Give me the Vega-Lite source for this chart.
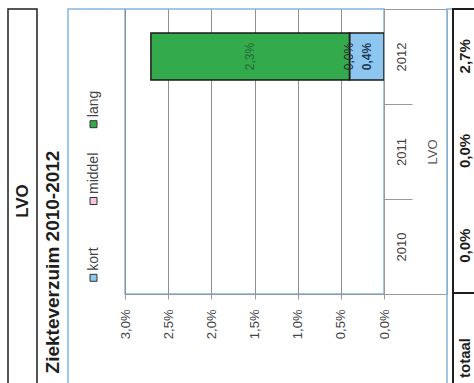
{
  "$schema": "https://vega.github.io/schema/vega-lite/v6.json",
  "background": "white",
  "padding": {"left": 7, "top": 7, "right": 0, "bottom": 0},
  "bounds": "flush",
  "spacing": 0,
  "config": {
    "font": "Liberation Sans",
    "view": {"stroke": null},
    "concat": {"spacing": 0},
    "locale": {
      "number": {"decimal": ",", "thousands": ".", "grouping": [3], "currency": ["€ ", ""]}
    }
  },
  "datasets": {
    "verzuim": [
      {"jaar": "2012", "reeks": "kort", "pct": 0.004},
      {"jaar": "2012", "reeks": "middel", "pct": 0.0},
      {"jaar": "2012", "reeks": "lang", "pct": 0.023}
    ],
    "totaal": [
      {"jaar": "2012", "pct": 0.027},
      {"jaar": "2011", "pct": 0.0},
      {"jaar": "2010", "pct": 0.0}
    ],
    "reeksen": [
      {"reeks": "kort"},
      {"reeks": "middel"},
      {"reeks": "lang"}
    ]
  },
  "hconcat": [
    {
      "width": 29,
      "height": 384,
      "view": {"stroke": "#1e1e1e", "strokeWidth": 1.5},
      "data": {"values": [{"kop": "LVO"}]},
      "mark": {"type": "text", "angle": 270, "fontSize": 17, "fontWeight": "bold", "color": "#1e1e1e", "align": "center", "baseline": "middle"},
      "encoding": {"text": {"field": "kop"}}
    },
    {
      "width": 31,
      "height": 506,
      "data": {"values": [{"titel": "Ziekteverzuim 2010-2012"}]},
      "mark": {"type": "text", "angle": 270, "fontSize": 19, "fontWeight": "bold", "color": "#1e1e1e", "align": "center", "baseline": "middle"},
      "encoding": {"text": {"field": "titel"}}
    },
    {
      "width": 57,
      "height": 384,
      "view": {"stroke": "#86b6dc", "strokeWidth": 1.5, "strokeDash": [57, 441, 384]},
      "data": {"name": "reeksen"},
      "encoding": {
        "y": {"field": "reeks", "type": "nominal", "scale": {"type": "band", "domain": ["lang", "middel", "kort"], "paddingInner": 0, "paddingOuter": 1.99}, "axis": null}
      },
      "layer": [
        {
          "mark": {"type": "point", "shape": "square", "size": 49, "filled": true, "opacity": 1, "stroke": "#333333", "strokeWidth": 1, "xOffset": -3},
          "encoding": {
            "color": {"field": "reeks", "type": "nominal", "scale": {"domain": ["kort", "middel", "lang"], "range": ["#8dc6ee", "#f3c6de", "#33aa4b"]}, "legend": null}
          }
        },
        {
          "mark": {"type": "text", "angle": 270, "align": "left", "baseline": "middle", "dx": 7, "fontSize": 14, "color": "#444444", "xOffset": -3},
          "encoding": {"text": {"field": "reeks"}}
        }
      ]
    },
    {
      "width": 259,
      "height": 285,
      "view": {"stroke": "#86b6dc", "strokeWidth": 1.5},
      "data": {"name": "verzuim"},
      "transform": [
        {"calculate": "indexof(['kort', 'middel', 'lang'], datum.reeks)", "as": "volgorde"},
        {"stack": "pct", "groupby": ["jaar"], "sort": [{"field": "volgorde", "order": "ascending"}], "as": ["x0", "x1"]},
        {"calculate": "(datum.x0 + datum.x1) / 2", "as": "xmid"}
      ],
      "encoding": {
        "y": {
          "field": "jaar",
          "type": "nominal",
          "scale": {"domain": ["2012", "2011", "2010"], "paddingInner": 0, "paddingOuter": 0},
          "axis": {
            "orient": "right",
            "title": "LVO",
            "titleAngle": 270,
            "titleBaseline": "top",
            "titlePadding": 14,
            "titleFontSize": 13,
            "titleFontWeight": "normal",
            "titleColor": "#555555",
            "labelAngle": 270,
            "labelAlign": "center",
            "labelBaseline": "middle",
            "labelPadding": -10.5,
            "labelFontSize": 13,
            "labelColor": "#444444",
            "tickBand": "extent",
            "tickSize": 28,
            "tickColor": "#9a9a9a",
            "domainColor": "#9a9a9a",
            "grid": false
          }
        }
      },
      "layer": [
        {
          "mark": {"type": "bar", "size": 47, "stroke": "#1a1a1a", "strokeWidth": 1.5},
          "encoding": {
            "x": {
              "field": "x0",
              "type": "quantitative",
              "scale": {"domain": [0, 0.03], "reverse": true},
              "axis": {
                "orient": "bottom",
                "title": null,
                "values": [0, 0.005, 0.01, 0.015, 0.02, 0.025, 0.03],
                "format": ".1%",
                "labelAngle": 270,
                "labelAlign": "right",
                "labelBaseline": "middle",
                "labelPadding": 10,
                "labelFontSize": 13,
                "labelColor": "#444444",
                "labelFlush": false,
                "labelOverlap": false,
                "tickSize": 5,
                "tickColor": "#9a9a9a",
                "domainColor": "#9a9a9a",
                "grid": true,
                "gridColor": "#8f8f8f"
              }
            },
            "x2": {"field": "x1"},
            "color": {"field": "reeks", "type": "nominal", "scale": {"domain": ["kort", "middel", "lang"], "range": ["#8dc6ee", "#f3c6de", "#33aa4b"]}, "legend": null}
          }
        },
        {
          "transform": [{"filter": "datum.reeks === 'lang'"}],
          "mark": {"type": "text", "angle": 270, "fontSize": 12, "color": "#236b36"},
          "encoding": {
            "x": {"field": "xmid", "type": "quantitative"},
            "text": {"field": "pct", "type": "quantitative", "format": ".1%"}
          }
        },
        {
          "transform": [{"filter": "datum.reeks === 'middel'"}],
          "mark": {"type": "text", "angle": 270, "fontSize": 12, "color": "#2b2b2b"},
          "encoding": {
            "x": {"field": "xmid", "type": "quantitative"},
            "text": {"field": "pct", "type": "quantitative", "format": ".1%"}
          }
        },
        {
          "transform": [{"filter": "datum.reeks === 'kort'"}],
          "mark": {"type": "text", "angle": 270, "fontSize": 12, "fontWeight": "bold", "color": "#1f3b5a"},
          "encoding": {
            "x": {"field": "xmid", "type": "quantitative"},
            "text": {"field": "pct", "type": "quantitative", "format": ".1%"}
          }
        }
      ]
    },
    {
      "width": 63,
      "height": 285,
      "view": {"stroke": "#9a9a9a", "strokeWidth": 1},
      "data": {"values": []},
      "mark": "text",
      "encoding": {}
    },
    {
      "width": 6,
      "height": 384,
      "view": {"stroke": "#86b6dc", "strokeWidth": 1.5},
      "data": {"values": []},
      "mark": "text",
      "encoding": {}
    },
    {
      "bounds": "flush",
      "spacing": 0,
      "vconcat": [
        {
          "width": 24,
          "height": 284,
          "view": {"stroke": "#1e1e1e", "strokeWidth": 2},
          "data": {"name": "totaal"},
          "mark": {"type": "text", "angle": 270, "fontSize": 15, "fontWeight": "bold", "color": "#1e1e1e", "align": "center", "baseline": "middle"},
          "encoding": {
            "y": {"field": "jaar", "type": "nominal", "scale": {"domain": ["2012", "2011", "2010"]}, "axis": null},
            "text": {"field": "pct", "type": "quantitative", "format": ".1%"}
          }
        },
        {
          "width": 24,
          "height": 130,
          "view": {"stroke": "#1e1e1e", "strokeWidth": 2},
          "data": {"values": [{"kop": "totaal"}]},
          "mark": {"type": "text", "angle": 270, "fontSize": 15, "fontWeight": "bold", "color": "#1e1e1e", "align": "center", "baseline": "middle"},
          "encoding": {"text": {"field": "kop"}}
        }
      ]
    }
  ]
}
